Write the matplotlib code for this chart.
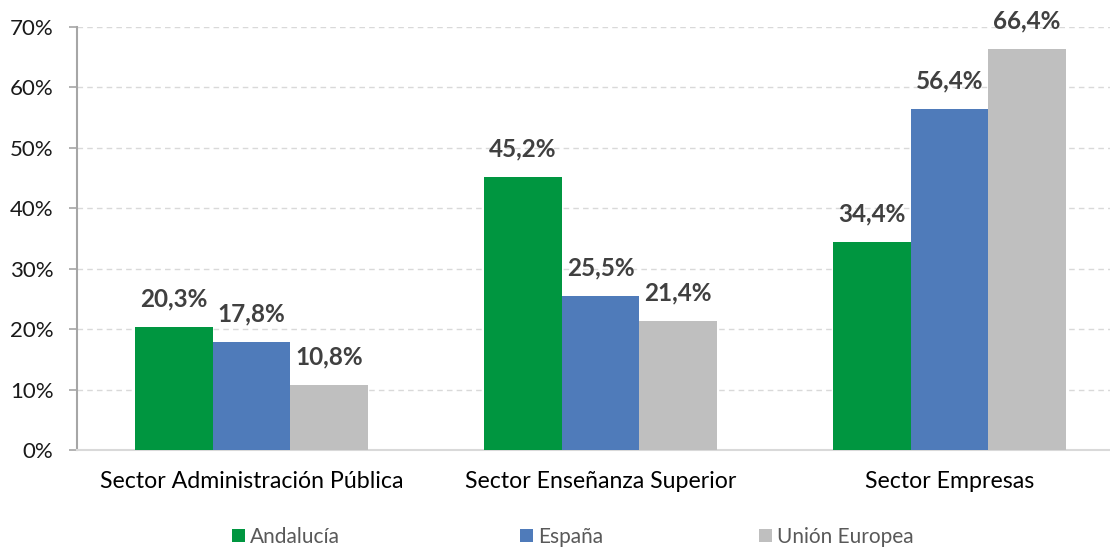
import matplotlib
matplotlib.use("Agg")
import matplotlib.pyplot as plt
import numpy as np

# Datos del gráfico
sectores = ["Sector Administración Pública", "Sector Enseñanza Superior", "Sector Empresas"]
andalucia = [20.3, 45.2, 34.4]
espana = [17.8, 25.5, 56.4]
union_europea = [10.8, 21.4, 66.4]

series = [("Andalucía", andalucia, "#009640"),
          ("España", espana, "#4F7BBA"),
          ("Unión Europea", union_europea, "#BFBFBF")]

plt.rcParams['font.family'] = ['Lato', 'DejaVu Sans']

fig = plt.figure(figsize=(11.1, 5.47), dpi=100)
ax = fig.add_axes([77 / 1110, (547 - 450) / 547, (1110 - 77) / 1110, 423 / 547])

x = np.arange(len(sectores))
ancho = 0.222

barras_serie = []
for i, (nombre, valores, color) in enumerate(series):
    pos = x + (i - 1) * ancho
    barras = ax.bar(pos, valores, ancho, color=color, label=nombre, zorder=3)
    barras_serie.append(barras)
    for b, v in zip(barras, valores):
        ax.annotate(f"{v:.1f}%".replace(".", ","),
                    (b.get_x() + b.get_width() / 2, v),
                    xytext=(0, 12), textcoords="offset points",
                    ha="center", va="bottom", fontsize=17.5,
                    fontweight="bold", color="#404040")

ax.set_xlim(-0.5, 2.46)
ax.set_ylim(0, 70)
ax.set_yticks(range(0, 71, 10))
ax.set_yticklabels([f"{t}%" for t in range(0, 71, 10)], fontsize=16, color="#1a1a1a")
ax.set_xticks(x)
ax.set_xticklabels(sectores, fontsize=16.7, color="#000000")
ax.tick_params(axis="x", length=0, pad=15)
ax.tick_params(axis="y", length=6, width=1.2, color="#A6A6A6", pad=11)

ax.grid(axis="y", linestyle=(0, (4, 3)), color="#D9D9D9", linewidth=1, zorder=0)
for s in ["top", "right"]:
    ax.spines[s].set_visible(False)
ax.spines["left"].set_color("#A6A6A6")
ax.spines["left"].set_linewidth(1.5)
ax.spines["bottom"].set_color("#D9D9D9")
ax.spines["bottom"].set_linewidth(1.5)

# Leyenda: una entrada por serie, colocadas como en el original
pos_leyenda = [232, 520, 759]
for (nombre, _, _), barras, px in zip(series, barras_serie, pos_leyenda):
    leg = fig.legend([barras], [nombre], loc="center left",
                     bbox_to_anchor=(px / 1110, 10 / 547), frameon=False,
                     fontsize=15, handlelength=0.6, handleheight=0.6,
                     handletextpad=0.25, borderpad=0, borderaxespad=0)
    for t in leg.get_texts():
        t.set_color("#595959")

fig.savefig("out.png", dpi=100)
